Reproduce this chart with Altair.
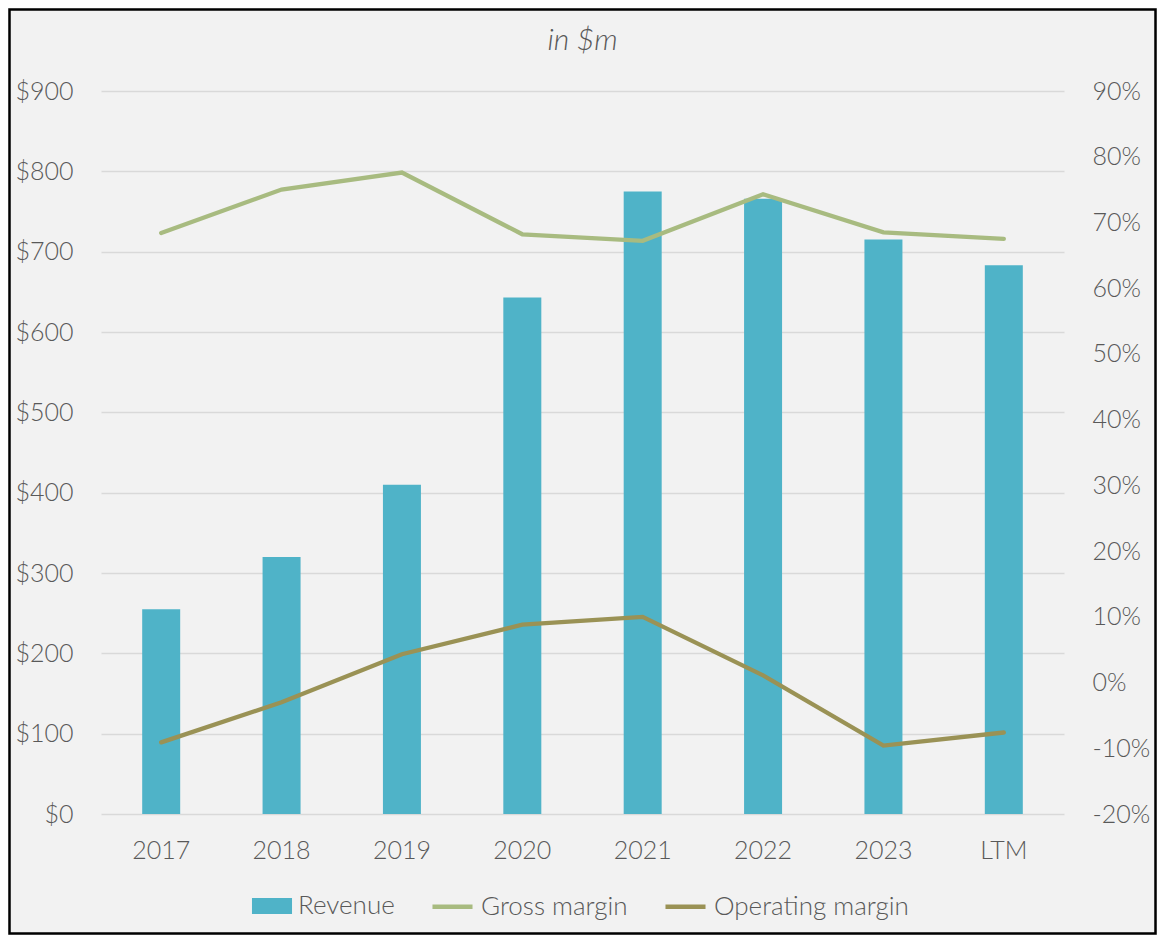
import altair as alt
import pandas as pd

categories = ["2017", "2018", "2019", "2020", "2021", "2022", "2023", "LTM"]
revenue = [255, 320, 410, 643, 775, 766, 715, 683]
gross_margin = [0.684, 0.750, 0.776, 0.682, 0.672, 0.743, 0.685, 0.675]
operating_margin = [-0.091, -0.030, 0.043, 0.088, 0.100, 0.011, -0.096, -0.076]

bar_series = ["Revenue"]
bar_colors = ["#4fb3c8"]
line_series = ["Gross margin", "Operating margin"]
line_colors = ["#a8bb80", "#9a9255"]
left_ticks = [0, 100, 200, 300, 400, 500, 600, 700, 800, 900]
right_ticks = [-0.2, -0.1, 0.0, 0.1, 0.2, 0.3, 0.4, 0.5, 0.6, 0.7, 0.8, 0.9]
title_text = ["in $m"]

bars_df = pd.DataFrame({"category": categories, "value": revenue, "series": "Revenue"})
lines_df = pd.concat([
    pd.DataFrame({"category": categories, "value": gross_margin, "series": "Gross margin"}),
    pd.DataFrame({"category": categories, "value": operating_margin, "series": "Operating margin"}),
], ignore_index=True)

FONT = "Lato"
TXT = "#595959"
W, H = 963, 723
PL, PT, PR, PB = 93, 83, 93, 121

x_enc = alt.X(
    "category:N",
    sort=categories,
    scale=alt.Scale(paddingInner=0, paddingOuter=0),
    axis=alt.Axis(title=None, domain=False, ticks=False, labelPadding=24,
                  labelFontSize=25, labelColor=TXT, labelFont=FONT,
                  labelFontWeight=300, labelAngle=0, grid=False),
)

legend_common = dict(
    title=None, orient="none", direction="horizontal",
    labelFontSize=26, labelColor=TXT, labelFont=FONT, labelFontWeight=300,
    symbolSize=1936, labelOffset=4, symbolOpacity=1,
    labelLimit=400,
)

bars = alt.Chart(bars_df).mark_bar(size=38).encode(
    x=x_enc,
    y=alt.Y("value:Q",
            scale=alt.Scale(domain=[0, 900], nice=False, zero=True),
            axis=alt.Axis(title=None, orient="left", values=left_ticks,
                          labelExpr="'$' + format(datum.value, 'd')",
                          domain=False, ticks=False, tickSize=0, labelPadding=28,
                          labelFontSize=25, labelColor=TXT, labelFont=FONT,
                          labelFontWeight=300, grid=True, gridColor="#d9d9d9",
                          gridWidth=1.3)),
    fill=alt.Fill("series:N",
                  scale=alt.Scale(domain=bar_series, range=bar_colors),
                  legend=alt.Legend(legendX=149, legendY=793, columnPadding=30,
                                    symbolType="M-0.91,-0.364H0.91V0.364H-0.91Z",
                                    symbolStrokeWidth=0, **legend_common)),
)

lines = alt.Chart(lines_df).mark_line(strokeWidth=4.3, strokeCap="round", strokeJoin="miter").encode(
    x=alt.X("category:N", sort=categories, bandPosition=0.5),
    y=alt.Y("value:Q",
            scale=alt.Scale(domain=[-0.2, 0.9], nice=False, zero=False),
            axis=alt.Axis(title=None, orient="right", values=right_ticks,
                          labelExpr="(datum.value < -0.0001 ? '-' : '') + format(abs(datum.value) * 100, '.0f') + '%'",
                          domain=False, ticks=False, tickSize=0, labelPadding=28,
                          labelFontSize=25, labelColor=TXT, labelFont=FONT,
                          labelFontWeight=300, grid=False)),
    stroke=alt.Stroke("series:N",
                      scale=alt.Scale(domain=line_series, range=line_colors),
                      sort=line_series,
                      legend=alt.Legend(legendX=327, legendY=791, columns=2,
                                        columnPadding=28,
                                        symbolType="M-0.91,0H0.91",
                                        symbolStrokeWidth=4.3, **legend_common)),
)

frame_df = pd.DataFrame({"frame": [1]})
frame = alt.Chart(frame_df).mark_rect(fill="transparent", stroke="#000000", strokeWidth=2.5, clip=False).encode(
    x=alt.value(-PL + 1.5), x2=alt.value(W + PR - 1.5),
    y=alt.value(-PT + 1.5), y2=alt.value(H + PB - 1.5),
)

title_df = pd.DataFrame({"title": title_text})
title = alt.Chart(title_df).mark_text(
    font=FONT, fontSize=30, fontStyle="italic", fontWeight=300, color=TXT,
    align="center", baseline="alphabetic", clip=False,
).encode(
    text="title:N",
    x=alt.value(W / 2), y=alt.value(-41),
)

chart = alt.layer(bars, lines, frame, title).resolve_scale(y="independent").properties(
    width=W, height=H,
    autosize=alt.AutoSizeParams(type="none"),
    padding={"left": PL, "top": PT, "right": PR, "bottom": PB},
    background="#f2f2f2",
).configure_view(stroke=None)

chart.save("out.html", embed_options={"renderer": "svg", "actions": False})
